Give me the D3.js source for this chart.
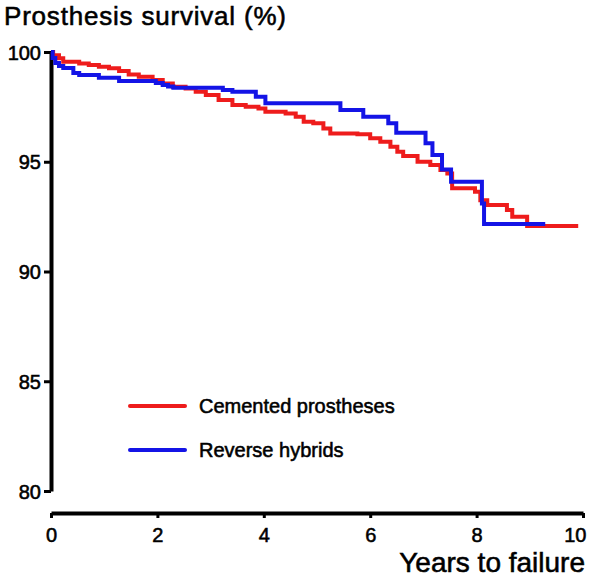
<!DOCTYPE html>
<html>
<head>
<meta charset="utf-8">
<script src="https://cdn.jsdelivr.net/npm/d3@7"></script>
<style>
  html, body { margin: 0; padding: 0; background: #fff; }
  svg text { font-family: "Liberation Sans", Arial, Helvetica, sans-serif; fill: #000; stroke: #000; stroke-width: 0.55px; paint-order: stroke; }
</style>
</head>
<body>
<svg id="chart" width="590" height="580"></svg>
<script>
// ---- data ----
const cementedYears = [0, 0.04, 0.15, 0.23, 0.53, 0.71, 0.90, 1.09, 1.28, 1.46, 1.65, 1.91, 2.10, 2.29, 2.53, 2.72, 2.91, 3.15, 3.41, 3.66, 3.90, 4.03, 4.41, 4.60, 4.75, 4.93, 5.12, 5.25, 5.76, 6.00, 6.19, 6.38, 6.51, 6.62, 6.89, 7.13, 7.32, 7.45, 7.54, 7.97, 8.07, 8.20, 8.57, 8.67, 8.95, 9.91];
const cementedSurvival = [100, 99.85, 99.71, 99.56, 99.48, 99.41, 99.33, 99.26, 99.13, 98.98, 98.87, 98.72, 98.57, 98.42, 98.34, 98.19, 98.04, 97.81, 97.58, 97.51, 97.43, 97.28, 97.20, 97.05, 96.82, 96.75, 96.52, 96.29, 96.25, 96.07, 95.91, 95.68, 95.46, 95.26, 95.00, 94.85, 94.62, 94.47, 93.79, 93.63, 93.25, 93.03, 92.80, 92.50, 92.07, 92.07];
const hybridYears = [0, 0.03, 0.08, 0.15, 0.23, 0.42, 0.53, 0.90, 1.28, 1.97, 2.10, 2.20, 2.30, 3.23, 3.41, 3.85, 4.03, 5.44, 5.87, 6.34, 6.49, 7.04, 7.17, 7.35, 7.52, 8.10, 8.14, 9.29];
const hybridSurvival = [100, 99.73, 99.50, 99.36, 99.27, 99.04, 98.95, 98.83, 98.68, 98.59, 98.50, 98.43, 98.37, 98.27, 98.19, 97.96, 97.66, 97.36, 97.05, 96.75, 96.32, 95.84, 95.31, 94.65, 94.09, 93.10, 92.16, 92.16];
const xTicks = [0, 2, 4, 6, 8, 10];
const yTicks = [80, 85, 90, 95, 100];
const seriesNames = ["Cemented prostheses", "Reverse hybrids"];
const seriesColors = ["#ee1c1c", "#1414e6"];

// ---- drawing ----
const svg = d3.select("#chart");
const x = d3.scaleLinear().domain([0, 10]).range([51, 583]);
const y = d3.scaleLinear().domain([80, 100]).range([491, 52]);

// y axis
const yAxis = svg.append("g").attr("transform", "translate(51,0)")
  .call(d3.axisLeft(y).tickValues(yTicks).tickSize(7).tickPadding(3).tickSizeOuter(0));
yAxis.select(".domain").attr("stroke", "#000").attr("stroke-width", 4);
yAxis.selectAll(".tick line").attr("stroke", "#000").attr("stroke-width", 3);
yAxis.selectAll(".tick text").attr("font-size", 20).attr("dy", "0.36em");

// x axis
const xAxis = svg.append("g").attr("transform", "translate(0,513)")
  .call(d3.axisBottom(x).tickValues(xTicks).tickSize(5).tickPadding(10).tickSizeOuter(0));
xAxis.select(".domain").attr("stroke", "#000").attr("stroke-width", 4);
xAxis.selectAll(".tick line").attr("stroke", "#000").attr("stroke-width", 3);
xAxis.selectAll(".tick text").attr("font-size", 20)
  .filter(d => d === xTicks[xTicks.length - 1])
  .attr("text-anchor", "end").attr("dx", 3);

// curves
const line = d3.line().curve(d3.curveStepAfter).x(d => x(d[0])).y(d => y(d[1]));
const series = [
  cementedYears.map((t, i) => [t, cementedSurvival[i]]),
  hybridYears.map((t, i) => [t, hybridSurvival[i]])
];
series.forEach((pts, i) => {
  svg.append("path").datum(pts)
    .attr("d", line)
    .attr("fill", "none")
    .attr("stroke", seriesColors[i])
    .attr("stroke-width", 4)
    .attr("stroke-linejoin", "miter");
});

// legend
const legendY = [406, 450];
seriesNames.forEach((name, i) => {
  svg.append("line").attr("x1", 130).attr("x2", 185)
    .attr("y1", legendY[i]).attr("y2", legendY[i])
    .attr("stroke", seriesColors[i]).attr("stroke-width", 4).attr("stroke-linecap", "round");
  svg.append("text").attr("x", 199).attr("y", legendY[i] + 7)
    .attr("font-size", 20).text(name);
});

// titles
svg.append("text").attr("x", 4).attr("y", 25).attr("font-size", 26)
  .attr("letter-spacing", 0.8)
  .text("Prosthesis survival (%)");
svg.append("text").attr("x", 585).attr("y", 572).attr("font-size", 28)
  .attr("text-anchor", "end").text("Years to failure");
</script>
</body>
</html>
